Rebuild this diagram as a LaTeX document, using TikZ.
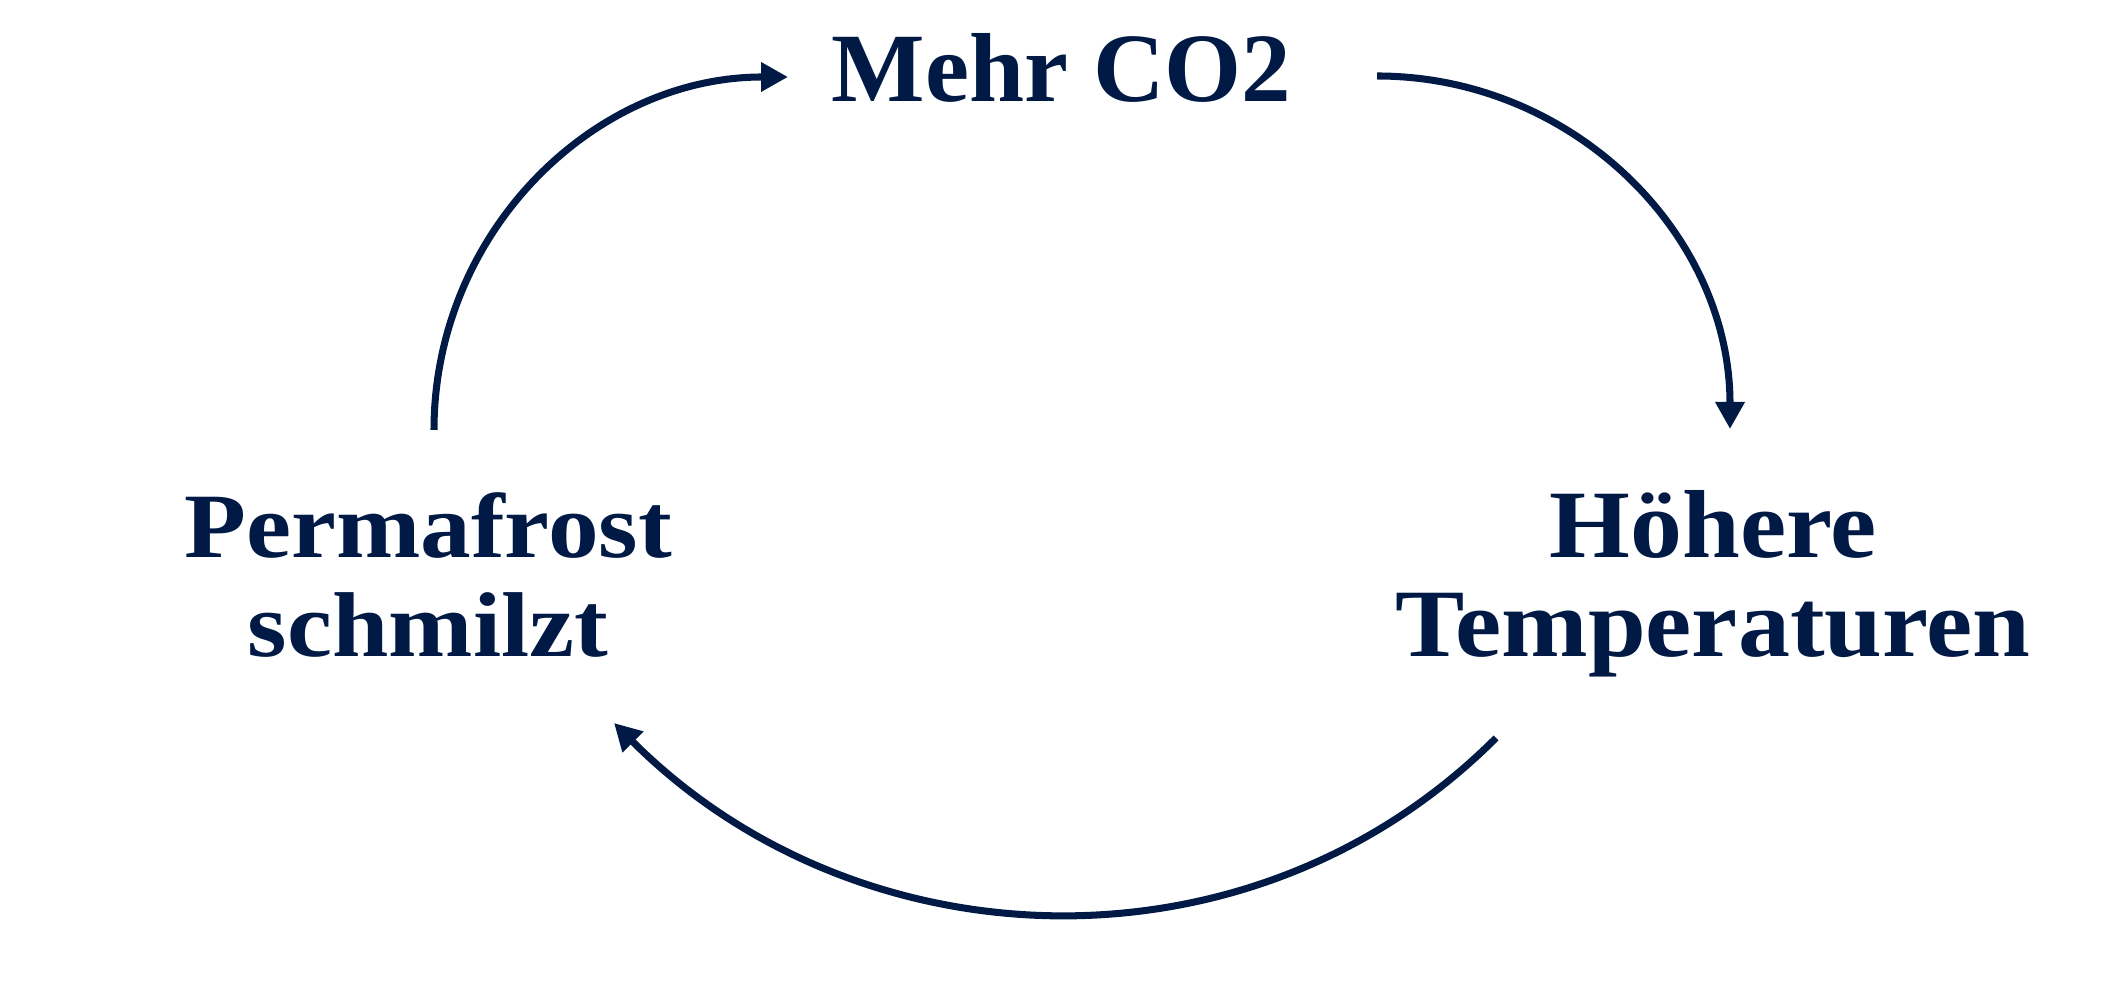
\documentclass[tikz,border=0pt]{standalone}
\usepackage{fontspec}
\setmainfont{Liberation Serif}
\newfontfamily\cofont[FakeStretch=1.01]{Liberation Serif}
\newfontfamily\permfont[FakeStretch=1.10]{Liberation Serif}
\newfontfamily\tempfont[FakeStretch=1.075]{Liberation Serif}
\usepackage{tikz}
\usetikzlibrary{arrows.meta,calc,positioning}
\definecolor{navy}{HTML}{001A45}

\begin{document}
\begin{tikzpicture}[>={Triangle[length=0.27cm,width=0.28cm]},
  lbl/.style={anchor=base,inner sep=0pt,text=navy,align=center},
  cyc/.style={->,draw=navy,line width=2pt}]
\useasboundingbox (0,0) rectangle (21.07,9.82);
\node[lbl,font=\cofont\bfseries\fontsize{27.9}{28.5}\selectfont] (co2) at (10.615,8.80) {Mehr CO2};
\node[lbl,font=\permfont\bfseries\fontsize{26.2}{28.45}\selectfont] (perm) at (4.28,3.25) {Permafrost\\schmilzt};
\node[lbl,font=\tempfont\bfseries\fontsize{27.5}{28.45}\selectfont] (temp) at (17.13,3.25) {Höhere\\Temperaturen};
\draw[cyc] ($(perm.base)+(0.06,2.27)$) to[out=90,in=180] ($(co2.base)+(-2.735,0.25)$);
\draw[cyc] ($(co2.base)+(3.155,0.26)$) to[out=0,in=90] ($(temp.base)+(0.17,2.28)$);
\draw[cyc] ($(temp.base)+(-2.17,-0.81)$) to[out=225,in=-45] ($(perm.base)+(1.86,-0.66)$);
\end{tikzpicture}
\end{document}
